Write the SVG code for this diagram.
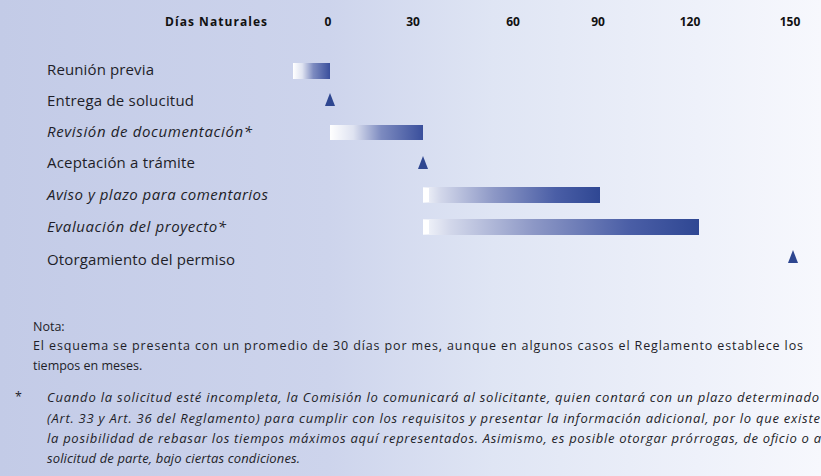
<svg xmlns="http://www.w3.org/2000/svg" width="821" height="476" viewBox="0 0 821 476">
<defs>
<linearGradient id="bg" x1="0" y1="0" x2="1" y2="0">
<stop offset="0" stop-color="#c3cbe7"/>
<stop offset="0.4" stop-color="#cdd4ec"/>
<stop offset="0.6" stop-color="#dfe5f4"/>
<stop offset="0.85" stop-color="#eef1fa"/>
<stop offset="1" stop-color="#f7f8fd"/>
</linearGradient>
<linearGradient id="barShort" x1="0" y1="0" x2="1" y2="0">
<stop offset="0" stop-color="#ffffff"/>
<stop offset="0.25" stop-color="#dfe3f1"/>
<stop offset="0.55" stop-color="#7d8bc0"/>
<stop offset="1" stop-color="#3a4f9c"/>
</linearGradient>
<linearGradient id="barLong" x1="0" y1="0" x2="1" y2="0">
<stop offset="0" stop-color="#f4f6fb"/>
<stop offset="0.1" stop-color="#d2d7ea"/>
<stop offset="0.4" stop-color="#8d98c6"/>
<stop offset="0.75" stop-color="#4a5ea6"/>
<stop offset="1" stop-color="#2f4793"/>
</linearGradient>
<style>
.lbl{font-family:"Open Sans","Noto Sans",sans-serif;font-size:15px;fill:#1e1e28;}
.it{font-style:italic;}
.hd{font-family:"Open Sans","Noto Sans",sans-serif;font-size:12px;font-weight:bold;fill:#111;}
.num{font-family:"Open Sans","Noto Sans",sans-serif;font-size:12px;font-weight:bold;fill:#111;text-anchor:middle;}
.note{font-family:"Open Sans","Noto Sans",sans-serif;font-size:12.5px;fill:#1e1e28;}
.fn{font-size:13px;}
.tri{fill:#2e4690;}
.start{fill:#ffffff;}
</style>
</defs>
<rect x="0" y="0" width="821" height="476" fill="url(#bg)"/>

<g id="header">
<text class="hd" x="165" y="26" textLength="102">Días Naturales</text>
<text class="num" x="328" y="26">0</text>
<text class="num" x="413" y="26">30</text>
<text class="num" x="513" y="26">60</text>
<text class="num" x="598" y="26">90</text>
<text class="num" x="690" y="26">120</text>
<text class="num" x="790" y="26">150</text>
</g>

<g id="reunion">
<text class="lbl" x="47" y="75" textLength="107">Reunión previa</text>
<rect x="293" y="63" width="37" height="16" fill="url(#barShort)"/>
</g>
<g id="entrega">
<text class="lbl" x="47" y="106" textLength="147">Entrega de solucitud</text>
<polygon class="tri" points="330,93 325,106 335,106"/>
</g>
<g id="revision">
<text class="lbl it" x="47" y="137" textLength="205">Revisión de documentación*</text>
<rect x="330" y="125" width="93" height="15" fill="url(#barShort)"/>
</g>
<g id="aceptacion">
<text class="lbl" x="47" y="168" textLength="148">Aceptación a trámite</text>
<polygon class="tri" points="423,156 418,169 428,169"/>
</g>
<g id="aviso">
<text class="lbl it" x="47" y="200" textLength="221">Aviso y plazo para comentarios</text>
<rect x="423" y="187" width="177" height="16" fill="url(#barLong)"/>
<rect class="start" x="423" y="188" width="6" height="14"/>
</g>
<g id="evaluacion">
<text class="lbl it" x="47" y="232" textLength="179">Evaluación del proyecto*</text>
<rect x="423" y="219" width="276" height="16" fill="url(#barLong)"/>
<rect class="start" x="423" y="220" width="6" height="14"/>
</g>
<g id="otorgamiento">
<text class="lbl" x="47" y="265" textLength="188">Otorgamiento del permiso</text>
<polygon class="tri" points="793,250 788,263 798,263"/>
</g>

<g id="notes">
<text class="note" x="33" y="331">Nota:</text>
<text class="note" x="33" y="350" textLength="770">El esquema se presenta con un promedio de 30 días por mes, aunque en algunos casos el Reglamento establece los</text>
<text class="note" x="33" y="370">tiempos en meses.</text>
<text class="note" x="15" y="401">*</text>
<text class="note fn it" x="47" y="402" textLength="772">Cuando la solicitud esté incompleta, la Comisión lo comunicará al solicitante, quien contará con un plazo determinado</text>
<text class="note fn it" x="47" y="423" textLength="773">(Art. 33 y Art. 36 del Reglamento) para cumplir con los requisitos y presentar la información adicional, por lo que existe</text>
<text class="note fn it" x="47" y="443" textLength="774">la posibilidad de rebasar los tiempos máximos aquí representados. Asimismo, es posible otorgar prórrogas, de oficio o a</text>
<text class="note fn it" x="47" y="463" textLength="253">solicitud de parte, bajo ciertas condiciones.</text>
</g>
<g id="connectors"/>
</svg>
